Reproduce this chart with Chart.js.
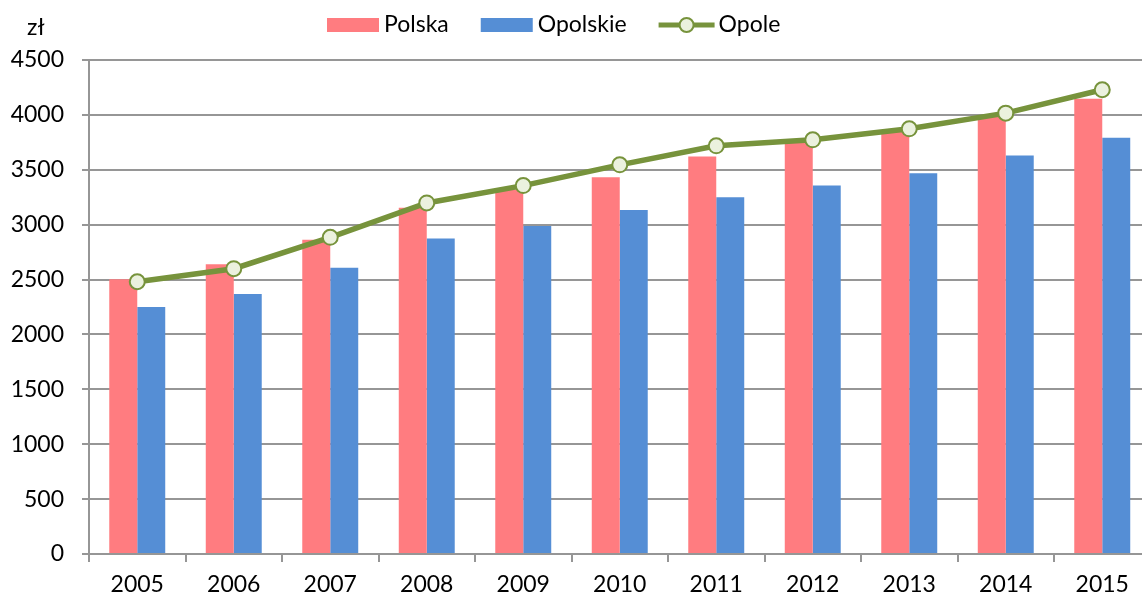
<!DOCTYPE html>
<html>
<head>
<meta charset="utf-8">
<script src="https://cdn.jsdelivr.net/npm/chart.js@4/dist/chart.umd.min.js"></script>
<style>
  html, body { margin: 0; padding: 0; background: #fff; }
  #wrap { width: 1142px; height: 598px; overflow: hidden; position: relative; }
  canvas { display: block; }
</style>
</head>
<body>
<div id="wrap"><canvas id="c" width="1160" height="598"></canvas></div>
<script>
/* Average wages: Polska vs Opolskie (bars) and Opole (line), 2005-2015 */

const YEARS    = ['2005', '2006', '2007', '2008', '2009', '2010', '2011', '2012', '2013', '2014', '2015'];
const POLSKA   = [2502, 2639, 2863, 3155, 3317, 3432, 3621, 3748, 3849, 3985, 4147];
const OPOLSKIE = [2249, 2368, 2608, 2873, 2988, 3134, 3250, 3356, 3469, 3630, 3791];
const OPOLE    = [2480, 2599, 2885, 3198, 3356, 3545, 3718, 3773, 3873, 4016, 4229];
const Y_MIN = 0, Y_MAX = 4500, Y_STEP = 500;
const UNIT = 'zł';

const COLORS = {
  polska: '#FF7C80',
  opolskie: '#558ED5',
  line: '#77933C',
  marker: '#EBF1DE',
  grid: '#969696',
  ink: '#000000',
};
const FONT = 'Lato, "Open Sans", sans-serif';
const FONT_SIZE = 23;

/* legend + unit label drawn by hand (Excel style: wide boxes, line with marker) */
const legendPlugin = {
  id: 'xlLegend',
  afterDraw(chart) {
    const ctx = chart.ctx;
    ctx.save();
    ctx.font = `${FONT_SIZE}px ${FONT}`;
    ctx.fillStyle = COLORS.ink;
    ctx.textBaseline = 'middle';
    ctx.textAlign = 'left';
    ctx.fillText(UNIT, 27, 28);

    const cy = 25;
    let x = 327;
    chart.data.datasets.forEach(ds => {
      if (ds.type === 'line') {
        ctx.strokeStyle = ds.borderColor;
        ctx.lineWidth = 5;
        ctx.beginPath();
        ctx.moveTo(x, cy); ctx.lineTo(x + 56, cy);
        ctx.stroke();
        ctx.beginPath();
        ctx.arc(x + 28, cy, 7, 0, Math.PI * 2);
        ctx.fillStyle = ds.pointBackgroundColor;
        ctx.fill();
        ctx.lineWidth = 2;
        ctx.strokeStyle = ds.pointBorderColor;
        ctx.stroke();
        x += 60;
      } else {
        ctx.fillStyle = ds.backgroundColor;
        ctx.fillRect(x, cy - 7, 52, 14);
        x += 57;
      }
      ctx.fillStyle = COLORS.ink;
      ctx.fillText(ds.label, x, cy);
      x += ctx.measureText(ds.label).width + 32;
    });
    ctx.restore();
  }
};

new Chart(document.getElementById('c'), {
  type: 'bar',
  data: {
    labels: YEARS,
    datasets: [
      {
        label: 'Polska',
        data: POLSKA,
        backgroundColor: COLORS.polska,
        categoryPercentage: 0.58,
        barPercentage: 1,
        order: 2,
      },
      {
        label: 'Opolskie',
        data: OPOLSKIE,
        backgroundColor: COLORS.opolskie,
        categoryPercentage: 0.58,
        barPercentage: 1,
        order: 2,
      },
      {
        type: 'line',
        label: 'Opole',
        data: OPOLE,
        borderColor: COLORS.line,
        borderWidth: 5.5,
        pointRadius: 7.5,
        pointBackgroundColor: COLORS.marker,
        pointBorderColor: COLORS.line,
        pointBorderWidth: 2,
        tension: 0,
        order: 1,
      }
    ]
  },
  options: {
    responsive: false,
    animation: false,
    layout: { padding: { top: 60, right: 6, left: 0, bottom: 0 } },
    plugins: {
      legend: { display: false },
      tooltip: { enabled: false },
    },
    scales: {
      x: {
        grid: { display: true, drawOnChartArea: false, tickLength: 8, color: COLORS.grid, lineWidth: 2 },
        border: { color: COLORS.grid, width: 2 },
        ticks: { color: COLORS.ink, font: { family: FONT, size: FONT_SIZE }, padding: 9, maxRotation: 0 },
        afterFit: s => { s.height = 44; },
      },
      y: {
        min: Y_MIN,
        max: Y_MAX,
        grid: { color: COLORS.grid, lineWidth: 2, tickLength: 7 },
        border: { color: COLORS.grid, width: 2 },
        ticks: {
          stepSize: Y_STEP,
          color: COLORS.ink,
          font: { family: FONT, size: FONT_SIZE },
          padding: 18,
          callback: v => String(v),
        },
        afterFit: s => { s.width = 89; },
      }
    }
  },
  plugins: [legendPlugin]
});
</script>
</body>
</html>
